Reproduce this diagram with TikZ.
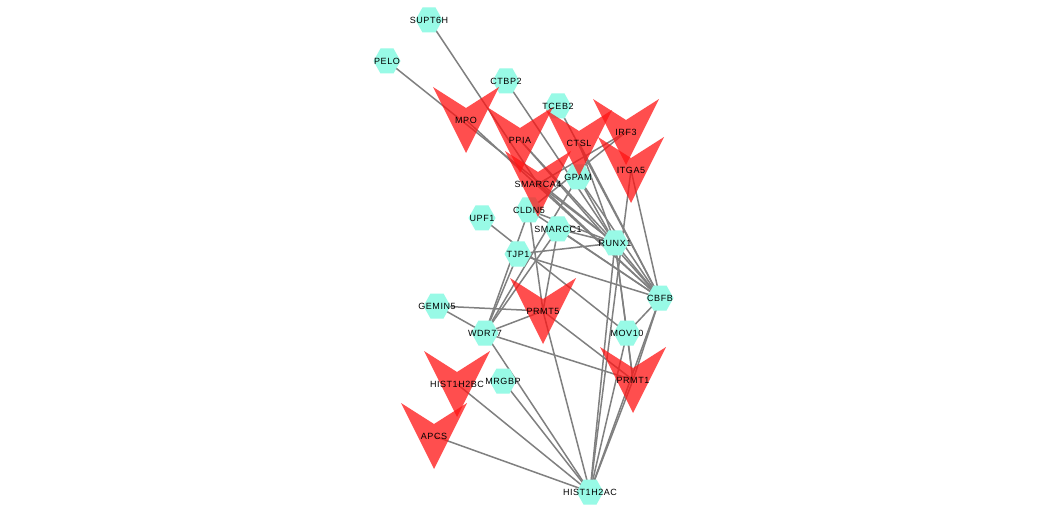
\documentclass[tikz,border=0pt]{standalone}
\usepackage{fontspec}
\setmainfont{Liberation Sans}[LetterSpace=6]
\definecolor{hexc}{RGB}{152,250,230}
\definecolor{vred}{RGB}{255,20,20}
\definecolor{edgec}{RGB}{128,128,128}
\begin{document}
\begin{tikzpicture}[x=1pt,y=-1pt,
  edge/.style={draw=edgec,line width=1.5pt},
  hexfill/.style={fill=hexc},
  vfill/.style={fill=vred,fill opacity=0.75},
  lab/.style={inner sep=0pt,font=\fontsize{9}{10}\selectfont,text=black}]
\useasboundingbox[fill=white] (0,0) rectangle (1047,513);
% cyan nodes
\coordinate (SUPT6H) at (429,20);
\coordinate (PELO) at (387,61);
\coordinate (CTBP2) at (506,81);
\coordinate (TCEB2) at (558,106);
\coordinate (GPAM) at (578,177);
\coordinate (CLDN5) at (529,210);
\coordinate (UPF1) at (482,218);
\coordinate (SMARCC1) at (558,229);
\coordinate (RUNX1) at (615,243);
\coordinate (TJP1) at (518,254);
\coordinate (CBFB) at (660,298);
\coordinate (GEMIN5) at (437,306);
\coordinate (WDR77) at (485,333);
\coordinate (MOV10) at (627,333);
\coordinate (MRGBP) at (503,381);
\coordinate (HIST1H2AC) at (590,492);
% red nodes
\coordinate (MPO) at (466,120);
\coordinate (PPIA) at (520,140);
\coordinate (CTSL) at (579,143);
\coordinate (IRF3) at (626,132);
\coordinate (ITGA5) at (631,170);
\coordinate (SMARCA4) at (538,184);
\coordinate (PRMT5) at (543,311);
\coordinate (PRMT1) at (633,380);
\coordinate (HIST1H2BC) at (457,384);
\coordinate (APCS) at (434,436);
% edges
\foreach \a/\b in {SUPT6H/SMARCA4,PELO/RUNX1,MPO/CBFB,CTBP2/RUNX1,TCEB2/CBFB,
  PPIA/RUNX1,PPIA/CBFB,CTSL/RUNX1,CTSL/CBFB,IRF3/CLDN5,IRF3/SMARCA4,
  ITGA5/CBFB,ITGA5/HIST1H2AC,SMARCA4/RUNX1,SMARCA4/CBFB,GPAM/RUNX1,GPAM/CBFB,
  GPAM/WDR77,CLDN5/RUNX1,CLDN5/CBFB,CLDN5/PRMT5,CLDN5/WDR77,SMARCC1/RUNX1,
  SMARCC1/CBFB,SMARCC1/PRMT5,SMARCC1/WDR77,UPF1/MOV10,TJP1/RUNX1,TJP1/CBFB,
  TJP1/WDR77,RUNX1/CBFB,RUNX1/HIST1H2AC,RUNX1/MOV10,RUNX1/PRMT1,CBFB/MOV10,
  CBFB/PRMT1,CBFB/HIST1H2AC,MOV10/PRMT1,MOV10/HIST1H2AC,PRMT1/HIST1H2AC,
  GEMIN5/PRMT5,GEMIN5/WDR77,WDR77/PRMT5,WDR77/PRMT1,WDR77/HIST1H2AC,
  PRMT5/PRMT1,PRMT5/HIST1H2AC,MRGBP/HIST1H2AC,HIST1H2BC/HIST1H2AC,APCS/HIST1H2AC}
  \draw[edge] (\a) -- (\b);
% hexagons
\foreach \n in {SUPT6H,PELO,CTBP2,TCEB2,GPAM,CLDN5,UPF1,SMARCC1,RUNX1,TJP1,CBFB,
  GEMIN5,WDR77,MOV10,MRGBP,HIST1H2AC}
  \fill[hexfill] (\n) +(-13.5,0) -- +(-6.5,-12.5) -- +(6.5,-12.5) -- +(13.5,0)
     -- +(6.5,12.5) -- +(-6.5,12.5) -- cycle;
% V shapes
\foreach \n in {MPO,PPIA,CTSL,IRF3,ITGA5,SMARCA4,PRMT5,PRMT1,HIST1H2BC,APCS}
  \fill[vfill] (\n) +(-33,-33) -- +(0,-12) -- +(33,-33) -- +(0,33) -- cycle;
% labels
\foreach \n in {SUPT6H,PELO,CTBP2,TCEB2,GPAM,CLDN5,UPF1,SMARCC1,RUNX1,TJP1,CBFB,
  GEMIN5,WDR77,MOV10,MRGBP,HIST1H2AC,MPO,PPIA,CTSL,IRF3,ITGA5,SMARCA4,PRMT5,
  PRMT1,HIST1H2BC,APCS}
  \node[lab] (l\n) at (\n) {\n};
\end{tikzpicture}
\end{document}
